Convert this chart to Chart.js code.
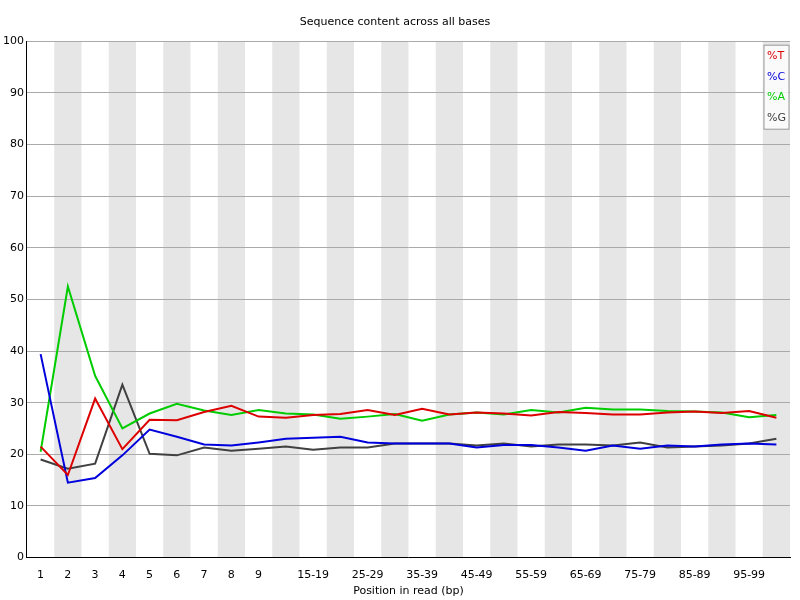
<!DOCTYPE html>
<html><head><meta charset="utf-8">
<script src="https://cdn.jsdelivr.net/npm/chart.js@4"></script>
<style>body{margin:0;background:#fff}#w{width:800px;height:600px}</style>
</head><body><div id="w"><canvas id="c"></canvas></div>
<script>
const categories=['1','2','3','4','5','6','7','8','9','10-14','15-19','20-24','25-29','30-34','35-39','40-44','45-49','50-54','55-59','60-64','65-69','70-74','75-79','80-84','85-89','90-94','95-99','100-101'];
const seriesT=[21.5,16,30.8,21,26.7,26.6,28.2,29.4,27.3,27.1,27.6,27.8,28.6,27.6,28.8,27.7,28.1,27.9,27.5,28.2,28,27.7,27.7,28.1,28.3,28,28.4,27.1];
const seriesC=[39.4,14.5,15.4,19.8,24.8,23.4,21.9,21.7,22.3,23,23.2,23.4,22.3,22.1,22.1,22.1,21.3,21.8,21.8,21.3,20.7,21.7,21.1,21.7,21.5,21.9,22.1,21.9];
const seriesA=[20.5,52.5,35.2,25,27.9,29.8,28.5,27.6,28.6,27.9,27.7,26.9,27.3,27.8,26.5,27.7,28.1,27.7,28.6,28.1,29,28.7,28.7,28.4,28.3,28.1,27.2,27.6];
const seriesG=[19,17.2,18.2,33.5,20.1,19.8,21.3,20.7,21.1,21.5,20.9,21.3,21.3,22.1,22.1,22.1,21.7,22.1,21.5,21.9,21.9,21.7,22.3,21.3,21.5,21.7,22.1,23];
const yTicks=[0,10,20,30,40,50,60,70,80,90,100];
const bands={id:'bands',beforeDraw(ch){const {ctx,chartArea:a,scales:{x}}=ch;ctx.save();const w=x.getPixelForValue(1)-x.getPixelForValue(0);ctx.fillStyle='#e6e6e6';categories.forEach((c,i)=>{if(i%2===1){const p=x.getPixelForValue(i);ctx.fillRect(p-w/2,a.top,w,a.bottom-a.top);}});ctx.restore();}};
const legendBox={id:'lb',afterDraw(ch){const {ctx,chartArea:a}=ch;const items=[['%T','#dd0000'],['%C','#0000dd'],['%A','#00cc00'],['%G','#404040']];ctx.save();ctx.fillStyle='rgba(255,255,255,0.8)';ctx.fillRect(a.right-26,a.top+4,25,84);ctx.strokeStyle='#999';ctx.strokeRect(a.right-26,a.top+4,25,84);ctx.font='11px "DejaVu Sans"';ctx.textBaseline='middle';items.forEach((it,i)=>{ctx.fillStyle=it[1];ctx.fillText(it[0],a.right-23,a.top+15+i*20.5);});ctx.restore();}};
const mk=(l,d,c)=>({label:l,data:d,borderColor:c,borderWidth:2,pointRadius:0,tension:0,fill:false});
new Chart(document.getElementById('c'),{type:'line',
data:{labels:categories,datasets:[mk('%T',seriesT,'#dd0000'),mk('%C',seriesC,'#0000dd'),mk('%A',seriesA,'#00cc00'),mk('%G',seriesG,'#404040')]},
options:{responsive:true,maintainAspectRatio:false,animation:false,layout:{padding:{left:0,right:10,top:8,bottom:0}},
plugins:{legend:{display:false},tooltip:{enabled:false},title:{display:true,text:'Sequence content across all bases',color:'#000',font:{family:'DejaVu Sans',size:11,weight:'normal'},padding:{top:8,bottom:12}}},
scales:{x:{offset:true,grid:{display:false},border:{color:'#000'},title:{display:true,text:'Position in read (bp)',color:'#000',font:{family:'DejaVu Sans',size:11},padding:{top:0,bottom:2}},
ticks:{autoSkip:false,maxRotation:0,color:'#000',font:{family:'DejaVu Sans',size:11},callback:(v,i)=>(i<9||(i-9)%2===1&&i<27)?categories[i]:''}},
y:{min:0,max:100,afterBuildTicks:s=>{s.ticks=yTicks.map(v=>({value:v}));},grid:{color:'#aaaaaa',drawTicks:false},border:{color:'#000'},ticks:{color:'#000',padding:3,font:{family:'DejaVu Sans',size:11}}}}},
plugins:[bands,legendBox]});
</script></body></html>
